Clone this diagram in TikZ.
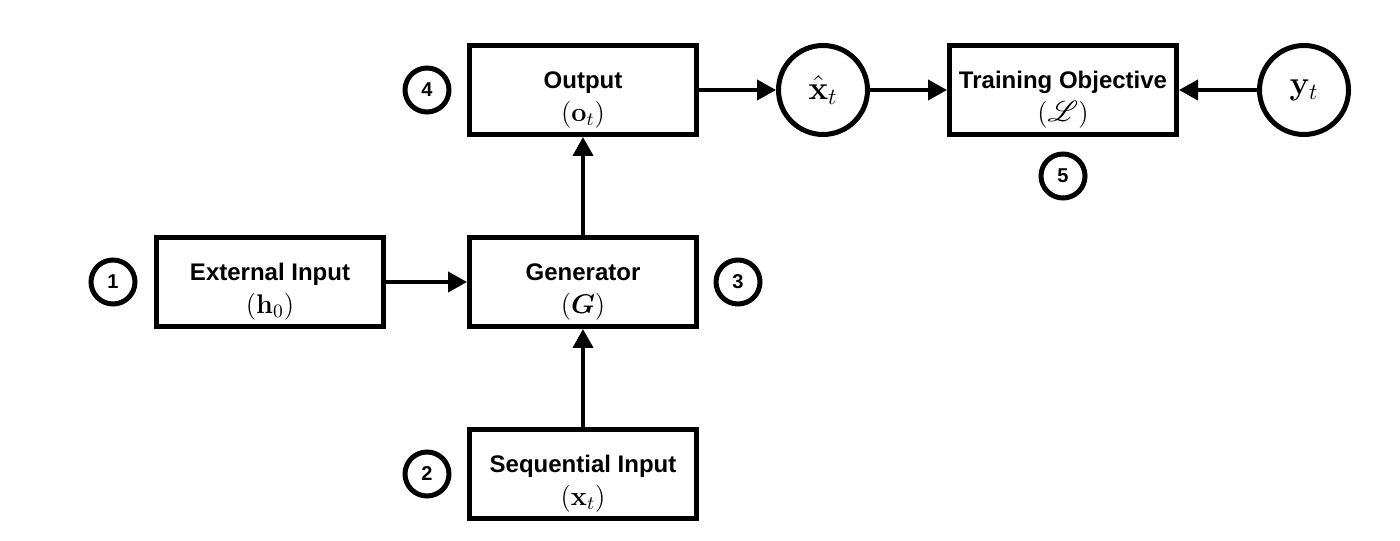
\RequirePackage{fix-cm}
\documentclass[tikz,border=0pt]{standalone}
\usepackage{amsmath,amssymb}
\usepackage{mathrsfs}
\usepackage[no-math]{fontspec}
\setmainfont{Liberation Sans}
\usetikzlibrary{arrows.meta}
\newcommand{\mth}[1]{{\fontsize{13.5}{16.5}\selectfont$#1$}}
\begin{document}
\begin{tikzpicture}[x=0.5pt,y=0.5pt,>={Triangle[length=9.5pt,width=10pt]}]
	\tikzset{box/.style={draw,line width=2.5pt,minimum width=113.5pt,minimum height=44.5pt,inner sep=0pt,align=center,font=\fontsize{12}{16.5}\selectfont\bfseries},
		state/.style={draw,circle,line width=2.5pt,minimum size=44.5pt,inner sep=0pt,font=\fontsize{16.5}{18}\selectfont},
		num/.style={draw,circle,line width=2.5pt,minimum size=22pt,inner sep=0pt,font=\fontsize{10}{11}\selectfont\bfseries},
		flow/.style={->,line width=2pt}}
	\useasboundingbox (0,0) rectangle (1400,540);
	% boxes
	\node[box] (out) at (583,450) {\rule{0pt}{18pt}Output\\\mth{(\mathbf{o}_t)}};
	\node[box] (ext) at (270,258) {\rule{0pt}{18pt}External Input\\\mth{(\mathbf{h}_0)}};
	\node[box] (gen) at (583,258) {\rule{0pt}{18pt}Generator\\\mth{(\boldsymbol{G})}};
	\node[box] (seq) at (583,66) {\rule{0pt}{18pt}Sequential Input\\\mth{(\mathbf{x}_t)}};
	\node[box] (obj) at (1063,450) {\rule{0pt}{18pt}Training Objective\\\mth{(\mathscr{L})}};
	\node[state] (xhat) at (823,450) {$\hat{\mathbf{x}}_t$};
	\node[state] (yt) at (1304,450) {$\mathbf{y}_t$};
	% step numbers
	\foreach \n/\p in {1/{(113,258)},2/{(427,66)},3/{(738,258)},4/{(427,450)},5/{(1063,364)}}
	\node[num] (n\n) at \p {\n};
	% connectors
	\draw[flow] (ext)--(gen);
	\draw[flow] (seq)--(gen);
	\draw[flow] (gen)--(out);
	\draw[flow] (out)--(xhat);
	\draw[flow] (xhat)--(obj);
	\draw[flow] (yt)--(obj);
\end{tikzpicture}
\end{document}
